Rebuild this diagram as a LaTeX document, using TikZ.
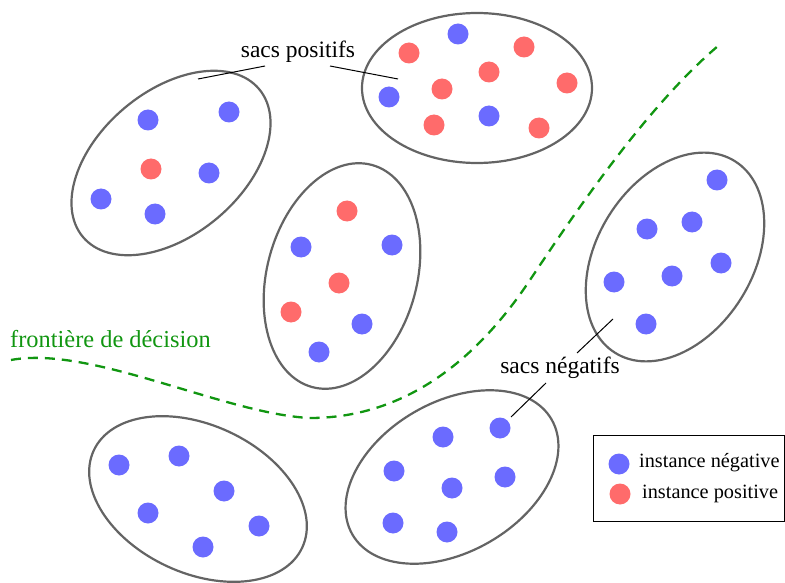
\documentclass[tikz,border=0pt]{standalone}
\usepackage{fontspec}
\setmainfont{Liberation Serif}
\definecolor{negc}{RGB}{107,107,255}
\definecolor{posc}{RGB}{255,107,107}
\definecolor{bagc}{RGB}{100,100,100}
\definecolor{frontc}{RGB}{17,150,17}
\tikzset{
  bag/.style={draw=bagc, line width=2.2pt},
  negdot/.style={circle, fill=negc, inner sep=0pt, minimum size=21pt},
  posdot/.style={circle, fill=posc, inner sep=0pt, minimum size=21pt},
  lead/.style={draw=black, line width=1pt},
  lbl/.style={font=\fontsize{23.5}{26}\selectfont, inner sep=0pt},
  frlbl/.style={font=\fontsize{24.4}{27}\selectfont, inner sep=0pt},
  legtxt/.style={font=\fontsize{20.3}{23}\selectfont, inner sep=0pt, anchor=west},
  front/.style={draw=frontc, line width=2.3pt, dash pattern=on 10pt off 7pt},
}
\begin{document}
\begin{tikzpicture}[x=1pt,y=1pt]
\useasboundingbox (0,0) rectangle (785,-583);
% bags
\draw[bag, shift={(171,-163)}, rotate=40] (0,0) ellipse [x radius=115pt, y radius=72pt];
\draw[bag] (477,-88) ellipse [x radius=115pt, y radius=75pt];
\draw[bag, shift={(342,-276)}, rotate=75] (0,0) ellipse [x radius=115pt, y radius=75pt];
\draw[bag, shift={(675,-257)}, rotate=58] (0,0) ellipse [x radius=113pt, y radius=78pt];
\draw[bag, shift={(198,-499)}, rotate=-25] (0,0) ellipse [x radius=115pt, y radius=74pt];
\draw[bag, shift={(452,-477)}, rotate=30] (0,0) ellipse [x radius=115pt, y radius=75pt];
% bag 1
\node[negdot] (a1) at (148,-120) {};
\node[negdot] (a2) at (229,-112) {};
\node[posdot] (a3) at (151,-169) {};
\node[negdot] (a4) at (209,-173) {};
\node[negdot] (a5) at (101,-199) {};
\node[negdot] (a6) at (155,-214) {};
% bag 2
\node[negdot] (b1) at (458,-34) {};
\node[posdot] (b2) at (409,-53) {};
\node[posdot] (b3) at (524,-47) {};
\node[posdot] (b4) at (489,-72) {};
\node[posdot] (b5) at (442,-89) {};
\node[posdot] (b6) at (567,-83) {};
\node[negdot] (b7) at (389,-97) {};
\node[posdot] (b8) at (434,-125) {};
\node[negdot] (b9) at (489,-116) {};
\node[posdot] (b10) at (539,-128) {};
% bag 3
\node[posdot] (c1) at (347,-211) {};
\node[negdot] (c2) at (301,-247) {};
\node[negdot] (c3) at (392,-245) {};
\node[posdot] (c4) at (339,-283) {};
\node[posdot] (c5) at (291,-312) {};
\node[negdot] (c6) at (362,-324) {};
\node[negdot] (c7) at (319,-352) {};
% bag 4
\node[negdot] (d1) at (717,-180) {};
\node[negdot] (d2) at (647,-229) {};
\node[negdot] (d3) at (692,-222) {};
\node[negdot] (d4) at (614,-282) {};
\node[negdot] (d5) at (672,-276) {};
\node[negdot] (d6) at (721,-263) {};
\node[negdot] (d7) at (646,-324) {};
% bag 5
\node[negdot] (e1) at (119,-465) {};
\node[negdot] (e2) at (179,-456) {};
\node[negdot] (e3) at (224,-491) {};
\node[negdot] (e4) at (148,-513) {};
\node[negdot] (e5) at (259,-526) {};
\node[negdot] (e6) at (203,-547) {};
% bag 6
\node[negdot] (f1) at (443,-437) {};
\node[negdot] (f2) at (500,-428) {};
\node[negdot] (f3) at (394,-471) {};
\node[negdot] (f4) at (452,-488) {};
\node[negdot] (f5) at (505,-477) {};
\node[negdot] (f6) at (393,-523) {};
\node[negdot] (f7) at (447,-532) {};
% decision boundary
\node[frlbl, text=frontc, anchor=west] (fr) at (10,-339) {frontière de décision};
\coordinate (fs) at (11,-360);
\coordinate (fm) at (310,-418);
\coordinate (fq) at (530,-280);
\coordinate (fe) at (718,-46);
\draw[front] (fs) .. controls (90,-345) and (225,-414) .. (fm)
  .. controls (420,-418) and (490,-340) .. (fq)
  .. controls (570,-220) and (645,-108) .. (fe);
% labels
\node[lbl] (sp) at (298,-52) {sacs positifs};
\coordinate (sp1) at (265,-66);
\coordinate (sp2) at (198,-79);
\coordinate (sp3) at (330,-66);
\coordinate (sp4) at (398,-79);
\draw[lead] (sp1) -- (sp2);
\draw[lead] (sp3) -- (sp4);
\node[lbl] (sn) at (560,-368) {sacs négatifs};
\coordinate (sn1) at (577,-353);
\coordinate (sn2) at (613,-319);
\coordinate (sn3) at (546,-383);
\coordinate (sn4) at (511,-417);
\draw[lead] (sn1) -- (sn2);
\draw[lead] (sn3) -- (sn4);
% legend
\node[draw=black, line width=1.3pt, minimum width=191pt, minimum height=86pt, anchor=north west, inner sep=0pt] (leg) at (593,-435) {};
\node[negdot] (ln) at (619,-464) {};
\node[posdot] (lp) at (620,-494) {};
\node[legtxt] (lnt) at (639,-463) {instance négative};
\node[legtxt] (lpt) at (642,-494) {instance positive};
\end{tikzpicture}
\end{document}
